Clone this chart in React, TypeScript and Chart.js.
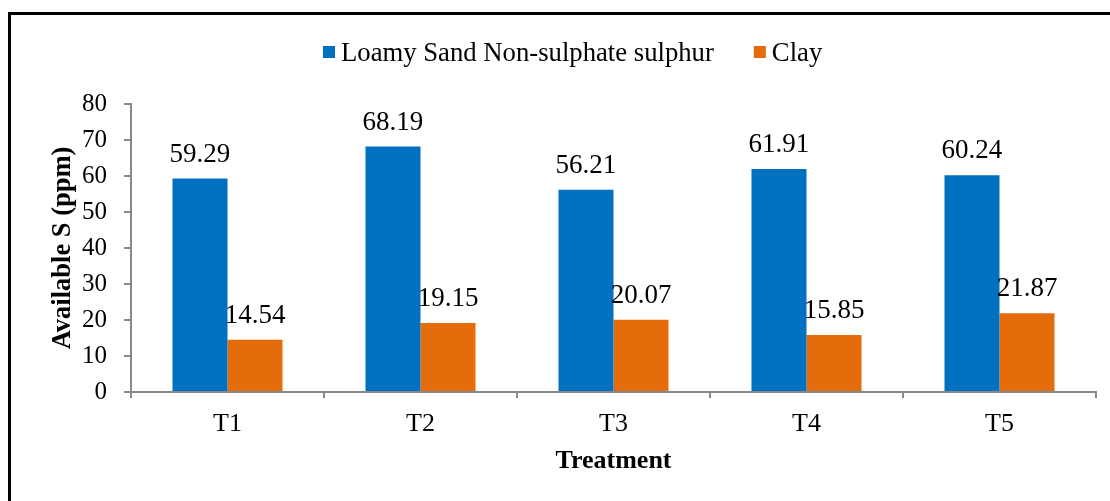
import React, { useEffect, useRef } from 'react';
import { Chart, registerables } from 'chart.js';

Chart.register(...registerables);

const categories = ['T1', 'T2', 'T3', 'T4', 'T5'];
const loamySand = [59.29, 68.19, 56.21, 61.91, 60.24];
const clay = [14.54, 19.15, 20.07, 15.85, 21.87];
const seriesNames = ['Loamy Sand Non-sulphate sulphur', 'Clay'];
const seriesColors = ['#0070C0', '#E46C0A'];
const yMin = 0;
const yMax = 80;
const yStep = 10;
const xTitle = 'Treatment';
const yTitle = 'Available S (ppm)';

const FONT = "'Liberation Serif', 'Times New Roman', serif";
const AXIS = '#898989';

const frame = {
  id: 'frame',
  beforeDraw(chart: any) {
    const ctx = chart.ctx;
    ctx.save();
    ctx.fillStyle = '#ffffff';
    ctx.fillRect(0, 0, chart.width, chart.height);
    ctx.fillStyle = '#000000';
    ctx.fillRect(8, 12, 3, chart.height - 12);
    ctx.fillRect(8, 12, chart.width - 8, 3);
    ctx.restore();
  },
};

const dataLabels = {
  id: 'dataLabels',
  afterDatasetsDraw(chart: any) {
    const ctx = chart.ctx;
    ctx.save();
    ctx.font = `27px ${FONT}`;
    ctx.fillStyle = '#000000';
    ctx.textAlign = 'center';
    ctx.textBaseline = 'alphabetic';
    chart.data.datasets.forEach((ds: any, i: number) => {
      const meta = chart.getDatasetMeta(i);
      meta.data.forEach((el: any, j: number) => {
        ctx.fillText(Number(ds.data[j]).toFixed(2), el.x, el.y - 17);
      });
    });
    ctx.restore();
  },
};

const customLegend = {
  id: 'customLegend',
  afterDraw(chart: any) {
    const ctx = chart.ctx;
    ctx.save();
    ctx.font = `26.7px ${FONT}`;
    ctx.textBaseline = 'alphabetic';
    ctx.textAlign = 'left';
    let x = 323;
    const box = 12;
    const gap = 6;
    const spacing = 40;
    chart.data.datasets.forEach((ds: any) => {
      ctx.fillStyle = ds.backgroundColor;
      ctx.fillRect(x, 46, box, box);
      ctx.fillStyle = '#000000';
      ctx.fillText(ds.label, x + box + gap, 61);
      x += box + gap + ctx.measureText(ds.label).width + spacing;
    });
    ctx.restore();
  },
};

export default function App() {
  const ref = useRef<HTMLCanvasElement | null>(null);

  useEffect(() => {
    if (!ref.current) return;
    const chart = new Chart(ref.current, {
      type: 'bar',
      data: {
        labels: categories,
        datasets: [
          {
            label: seriesNames[0],
            data: loamySand,
            backgroundColor: seriesColors[0],
            borderWidth: 0,
            categoryPercentage: 0.57,
            barPercentage: 1,
          },
          {
            label: seriesNames[1],
            data: clay,
            backgroundColor: seriesColors[1],
            borderWidth: 0,
            categoryPercentage: 0.57,
            barPercentage: 1,
          },
        ],
      },
      options: {
        responsive: false,
        animation: false,
        devicePixelRatio: 1,
        layout: { padding: { top: 104, right: 14, bottom: 0, left: 0 } },
        plugins: {
          legend: { display: false },
          tooltip: { enabled: false },
          title: { display: false },
        },
        scales: {
          x: {
            grid: {
              display: true,
              drawOnChartArea: false,
              drawTicks: true,
              tickLength: 6,
              color: AXIS,
              lineWidth: 2,
              offset: true,
            },
            border: { display: true, color: AXIS, width: 2 },
            ticks: { font: { family: FONT, size: 26 }, color: '#000000', padding: 11 },
            title: {
              display: true,
              text: xTitle,
              font: { family: FONT, size: 26, weight: 'bold' },
              color: '#000000',
              padding: { top: 0, bottom: 24 },
            },
            afterFit(scale: any) {
              scale.height = 109;
            },
          },
          y: {
            min: yMin,
            max: yMax,
            grid: {
              display: true,
              drawOnChartArea: false,
              drawTicks: true,
              tickLength: 7,
              color: AXIS,
              lineWidth: 2,
            },
            border: { display: true, color: AXIS, width: 2 },
            ticks: {
              stepSize: yStep,
              font: { family: FONT, size: 25 },
              color: '#000000',
              padding: 17,
            },
            title: {
              display: true,
              text: yTitle,
              font: { family: FONT, size: 26.5, weight: 'bold' },
              color: '#000000',
              padding: { top: 47, bottom: 0 },
            },
            afterFit(scale: any) {
              scale.width = 131;
            },
          },
        },
      },
      plugins: [frame, dataLabels, customLegend],
    } as any);
    return () => chart.destroy();
  }, []);

  return (
    <div style={{ position: 'absolute', left: 0, top: 0, width: 1110, height: 501, background: '#fff' }}>
      <canvas ref={ref} width={1110} height={501} style={{ width: 1110, height: 501, display: 'block' }} />
    </div>
  );
}
